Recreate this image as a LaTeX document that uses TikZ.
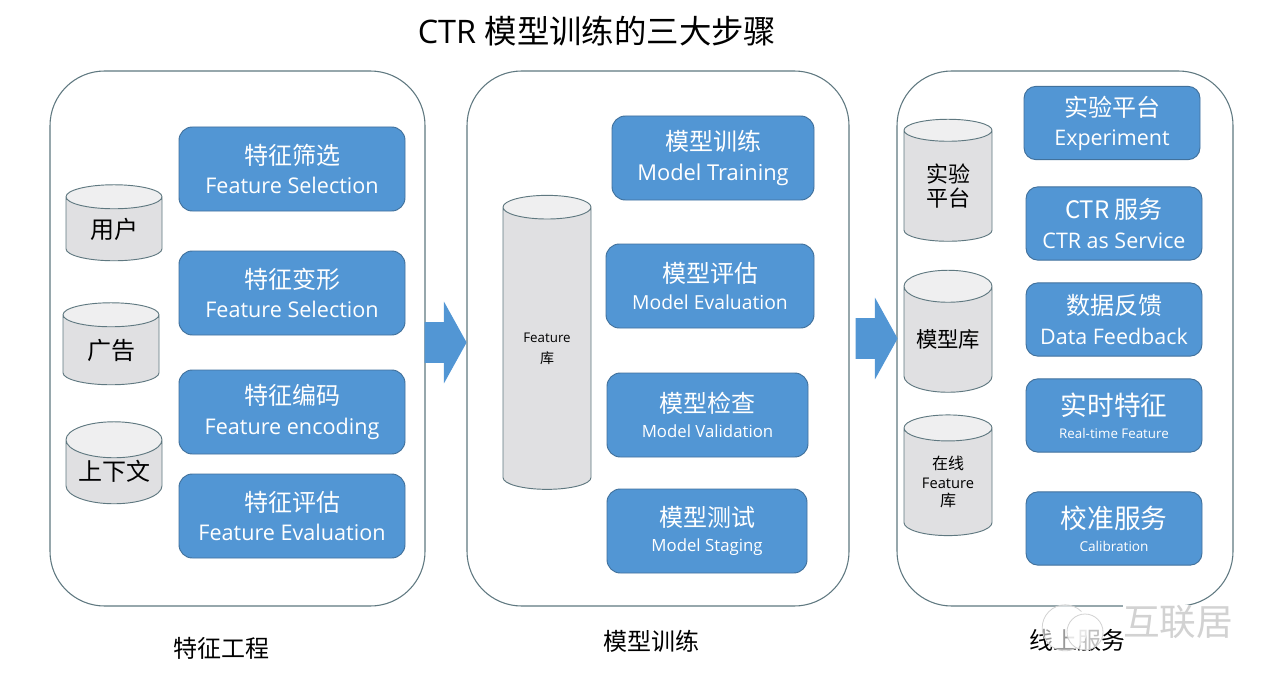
\documentclass[tikz,border=0pt]{standalone}
\usepackage{fontspec}
\setmainfont{Open Sans}
\newfontfamily\cjk{Noto Sans CJK SC}
\usepackage{tikz}
\usetikzlibrary{arrows.meta,positioning,shapes.geometric,shapes.arrows}
\definecolor{boxblue}{HTML}{5296D4}
\definecolor{boxline}{HTML}{41719C}
\definecolor{panelline}{HTML}{5F7880}
\definecolor{cylbody}{HTML}{E0E0E2}
\definecolor{cyltop}{HTML}{EFEFF0}
\definecolor{markgray}{HTML}{D2D2D2}
\tikzset{
  panel/.style={draw=panelline, line width=0.8pt, rounded corners=41pt, fill=white, minimum height=401.25pt},
  stepbox/.style={draw=boxline, line width=0.7pt, rounded corners=10pt, fill=boxblue, text=white, align=center, minimum height=63pt},
  onlinebox/.style={stepbox, minimum width=132pt, minimum height=55pt, rounded corners=9pt},
  store/.style={draw=panelline, line width=0.7pt, cylinder, shape border rotate=90, aspect=0.5, cylinder uses custom fill, cylinder body fill=cylbody, cylinder end fill=cyltop, align=center, inner sep=0pt},
  bigarrow/.style={single arrow, fill=boxblue, draw=none, inner xsep=0pt, inner ysep=15pt, single arrow head extend=15.5pt, single arrow tip angle=122},
  caption/.style={font=\fontsize{18}{20}\selectfont\cjk, text=black}
}
\newcommand{\cnline}[1]{{\fontsize{18}{22}\selectfont\cjk #1}}
\newcommand{\cnbig}[1]{{\fontsize{20}{22}\selectfont\cjk #1}}
\newcommand{\enline}[2]{{\fontsize{#1}{20}\selectfont #2}}
\begin{document}
\begin{tikzpicture}[x=0.75pt,y=-0.75pt]
  \useasboundingbox (0,0) rectangle (1280,688);
  \node[font=\fontsize{24.3}{28}\selectfont] (title) at (597,31) {CTR {\cjk 模型训练的三大步骤}};
  % panels
  \node[panel,minimum width=281.25pt] (feature) at (237.5,338.5) {};
  \node[panel,minimum width=286.5pt] (training) at (658,338.5) {};
  \node[panel,minimum width=252pt] (online) at (1065,338.5) {};
  % feature engineering
  \node[stepbox,minimum width=169.5pt] (select) at (292,169) {\cnline{特征筛选}\\[7.5pt]\enline{16.2}{Feature Selection}};
  \node[stepbox,minimum width=169.5pt] (transform) at (292,293) {\cnline{特征变形}\\[7.5pt]\enline{16.2}{Feature Selection}};
  \node[stepbox,minimum width=169.5pt] (encode) at (292,412) {\cnline{特征编码}\\[7.5pt]\enline{16.2}{Feature encoding}};
  \node[stepbox,minimum width=169.5pt] (evalfeat) at (292,516) {\cnline{特征评估}\\[7.5pt]\enline{16.2}{Feature Evaluation}};
  \node[store,minimum width=72pt,minimum height=57pt] (user) at (114,229) {\cnline{用户}};
  \node[store,minimum width=72pt,minimum height=61.5pt] (ad) at (111,350) {\cnline{广告}};
  \node[store,minimum width=72pt,minimum height=61.5pt] (context) at (114,472) {\raisebox{2pt}{\cnline{上下文}}};
  % model training
  \node[stepbox,minimum width=151.5pt] (train) at (713,158) {\cnline{模型训练}\\[7.5pt]\enline{16.4}{Model Training}};
  \node[stepbox,minimum width=156pt] (evalmodel) at (710,286) {\cnline{模型评估}\\[7pt]\enline{14.5}{Model Evaluation}};
  \node[stepbox,minimum width=150.75pt] (valid) at (707.5,415) {\cnline{模型检查}\\[6.5pt]\enline{12.6}{Model Validation}};
  \node[stepbox,minimum width=150pt] (staging) at (707,531) {\cnline{模型测试}\\[6.5pt]\enline{12.6}{Model Staging}};
  \node[store,minimum width=66pt,minimum height=220.5pt] (featlib) at (547,348.5) {\enline{10}{\raisebox{-3pt}{Feature}}\\[4pt]{\fontsize{10.5}{12}\selectfont\cjk \raisebox{-3pt}{库}}};
  % online service
  \node[onlinebox] (exp) at (1112,123) {\cnline{实验平台}\\[7.5pt]\enline{16.1}{Experiment}};
  \node[onlinebox] (ctr) at (1114,223.5) {\cnline{CTR 服务}\\[7.5pt]\enline{16.1}{CTR as Service}};
  \node[onlinebox] (back) at (1114,319.5) {\cnline{数据反馈}\\[7.5pt]\enline{16.1}{Data Feedback}};
  \node[onlinebox] (real) at (1114,415.5) {\cnbig{实时特征}\\[5pt]\enline{10}{Real-time Feature}};
  \node[onlinebox] (calib) at (1114,528.5) {\cnbig{校准服务}\\[5pt]\enline{10.2}{Calibration}};
  \node[store,minimum width=66pt,minimum height=91.5pt] (explib) at (948,186) {{\fontsize{16.5}{20}\selectfont\cjk 实验}\\[2pt]{\fontsize{16.5}{20}\selectfont\cjk 平台}};
  \node[store,minimum width=66pt,minimum height=91.5pt] (modellib) at (948,339.5) {\fontsize{16}{20}\selectfont\cjk 模型库};
  \node[store,minimum width=66pt,minimum height=90.5pt] (onlinelib) at (948,482) {{\fontsize{12}{13}\selectfont\cjk 在线}\\[2pt]\enline{11}{Feature}\\[2pt]{\fontsize{12}{13}\selectfont\cjk 库}};
  % arrows between panels
  \node[bigarrow,minimum height=31.5pt] (arrowa) at (440,342.5) {};
  \node[bigarrow,minimum height=31.5pt] (arrowb) at (871,338.5) {};
  % captions
  \node[caption] (capa) at (221,648) {特征工程};
  \node[caption] (capb) at (651,641) {模型训练};
  \node[caption] (capc) at (1077,640) {线上服务};
  % watermark
  \node[circle,fill=white,fill opacity=0.6,minimum size=34.5pt,inner sep=0pt] (marka) at (1065,628) {};
  \draw[markgray,line width=0.6pt] (marka.45) arc (45:300:17.25pt);
  \node[circle,fill=white,fill opacity=0.75,draw=markgray,line width=0.6pt,minimum size=27pt,inner sep=0pt] (markb) at (1085,632) {};
  \node[fill=white,inner sep=0pt,text=markgray,font=\fontsize{27.5}{30}\selectfont\cjk] (mark) at (1178,622) {互联居};
\end{tikzpicture}
\end{document}
